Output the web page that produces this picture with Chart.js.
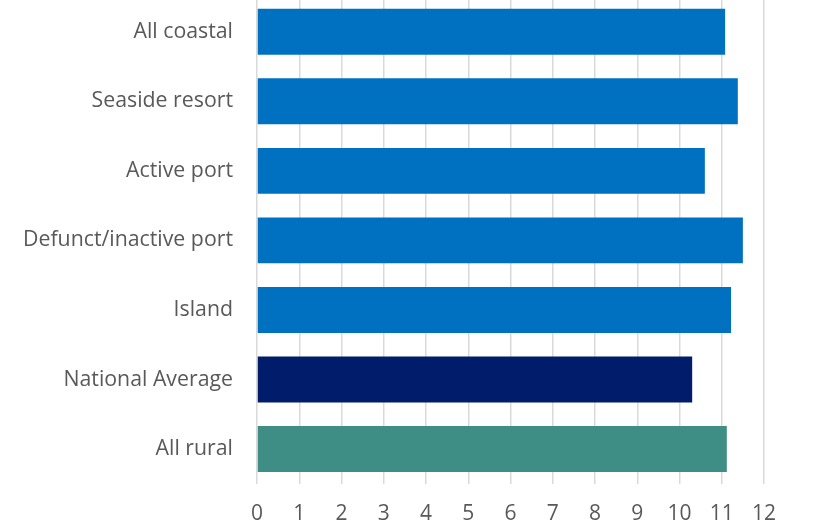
<!DOCTYPE html>
<html>
<head>
<meta charset="utf-8">
<script src="https://cdn.jsdelivr.net/npm/chart.js@4"></script>
<style>
  html, body { margin: 0; padding: 0; background: #fff; overflow: hidden; }
  #wrap { position: absolute; left: 0; top: -3px; width: 825px; height: 556px; }
</style>
</head>
<body>
<div id="wrap"><canvas id="grafico_barras"></canvas></div>
<script>
// dados
const labels = ['All coastal', 'Seaside resort', 'Active port', 'Defunct/inactive port', 'Island', 'National Average', 'All rural']
const valores = [11.08, 11.38, 10.6, 11.5, 11.22, 10.3, 11.12]
const cores = ['#0070c0', '#0070c0', '#0070c0', '#0070c0', '#0070c0', '#001c6b', '#3f8e86']
const ticksX = [0, 1, 2, 3, 4, 5, 6, 7, 8, 9, 10, 11, 12]

let ctx = document.getElementById('grafico_barras')

Chart.defaults.color = '#595959'
Chart.defaults.font.family = '"Open Sans", sans-serif'

const data = {
  labels,
  datasets: [{
    data: valores,
    backgroundColor: cores,
    borderWidth: 0,
    categoryPercentage: 0.66,
    barPercentage: 1
  }]
}

const config = {
  type: 'bar',
  data,
  options: {
    indexAxis: 'y',
    responsive: true,
    maintainAspectRatio: false,
    animation: false,
    layout: { padding: { left: 0, right: 61, top: 0, bottom: 8 } },
    plugins: {
      legend: { display: false },
      tooltip: { enabled: false }
    },
    scales: {
      x: {
        min: 0,
        max: 12,
        afterBuildTicks: axis => { axis.ticks = ticksX.map(v => ({ value: v })) },
        grid: { color: '#d9d9d9', lineWidth: 1.5, drawTicks: false },
        border: { display: false },
        ticks: { padding: 18, font: { size: 21 }, color: '#595959' }
      },
      y: {
        grid: { display: false, drawTicks: false },
        border: { display: false },
        afterFit: axis => {
          axis.width = 257
          axis.paddingTop = 0
          axis.paddingBottom = 0
        },
        ticks: { padding: 24, font: { size: 21.3 }, color: '#595959' }
      }
    }
  }
}

const graph = new Chart(ctx, config)
</script>
</body>
</html>
